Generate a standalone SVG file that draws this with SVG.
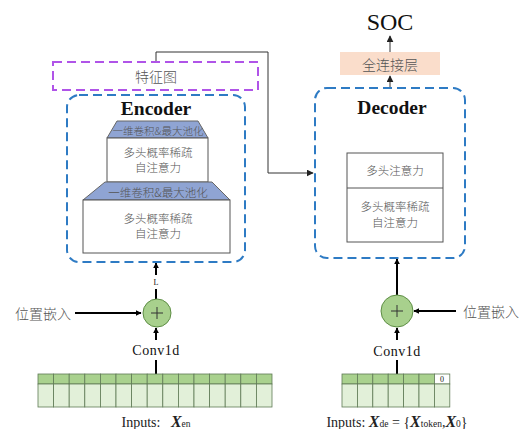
<svg xmlns="http://www.w3.org/2000/svg" width="525" height="429" viewBox="0 0 525 429">
<defs>
<marker id="ah" viewBox="0 0 10 10" refX="9" refY="5" markerWidth="6" markerHeight="6" orient="auto" markerUnits="userSpaceOnUse">
<path d="M0,0 L10,5 L0,10 z" fill="#000"/>
</marker>
<marker id="ahs" viewBox="0 0 10 10" refX="9" refY="5" markerWidth="7" markerHeight="7" orient="auto" markerUnits="userSpaceOnUse">
<path d="M0,0 L10,5 L0,10 z" fill="#222"/>
</marker>
</defs>
<style>
.cn{font-family:"Noto Sans CJK SC","Liberation Serif",serif;fill:#555;font-weight:300;text-anchor:middle;dominant-baseline:central}
.ser{font-family:"Liberation Serif",serif;fill:#111;text-anchor:middle;dominant-baseline:central}
.inp{font-family:"Liberation Serif",serif;fill:#222;text-anchor:middle;font-size:14px}
.blue{fill:none;stroke:#2E7BC4;stroke-width:2;stroke-dasharray:9,5}
.wbox{fill:#fff;stroke:#555;stroke-width:1}
.trap{fill:#8FA4D3;stroke:#666;stroke-width:1}
.line{stroke:#000;stroke-width:2;fill:none}
.thin{stroke:#333;stroke-width:1;fill:none}
.circ{fill:#A8D08D;stroke:#5E8E45;stroke-width:1}
.gt{fill:#A9D18E;stroke:#5f7a55;stroke-width:0.8}
.gb{fill:#E2F0D9;stroke:#5f7a55;stroke-width:0.8}
.X{font-weight:bold;font-style:italic;font-size:16px}
.sub{font-size:9.5px}
</style>
<rect width="525" height="429" fill="#fff"/>

<g id="connectors">
<path class="thin" d="M156,62 V52 H268 V173 H313" marker-end="url(#ahs)"/>
<line class="line" x1="156" y1="299" x2="156" y2="289"/>
<line class="line" x1="156" y1="275" x2="156" y2="263" marker-end="url(#ah)"/>
<line class="line" x1="75" y1="313" x2="141" y2="313" marker-end="url(#ah)"/>
<line class="line" x1="156" y1="340" x2="156" y2="328" marker-end="url(#ah)"/>
<line class="line" x1="156" y1="360" x2="156" y2="375"/>
<line class="line" x1="397" y1="295" x2="397" y2="259" marker-end="url(#ah)"/>
<line class="line" x1="456" y1="311" x2="414" y2="311" marker-end="url(#ah)"/>
<line class="line" x1="397" y1="340" x2="397" y2="328" marker-end="url(#ah)"/>
<line class="line" x1="397" y1="360" x2="397" y2="375"/>
<line class="thin" x1="390" y1="88" x2="390" y2="76" marker-end="url(#ahs)"/>
<line class="thin" x1="390" y1="52" x2="390" y2="36" marker-end="url(#ahs)"/>
</g>

<g id="featuremap">
<rect x="53" y="62" width="205" height="28" fill="none" stroke="#B054E8" stroke-width="2" stroke-dasharray="9,5"/>
<text class="cn" x="156" y="76" font-size="14">特征图</text>
</g>

<g id="encoder">
<rect class="blue" x="67" y="95" width="178" height="167" rx="12"/>
<text class="ser" x="156" y="108" font-size="19.5" font-weight="bold">Encoder</text>
<polygon class="trap" points="117,121 198,121 208,138 107,138"/>
<text class="cn" x="158" y="130" font-size="10.5">一维卷积&amp;最大池化</text>
<rect class="wbox" x="107" y="138" width="101" height="44"/>
<text class="cn" x="158" y="152" font-size="11.5">多头概率稀疏</text>
<text class="cn" x="158" y="167" font-size="11.5">自注意力</text>
<polygon class="trap" points="105,182 212,182 230,200 83,200"/>
<text class="cn" x="158" y="192" font-size="11.5">一维卷积&amp;最大池化</text>
<rect class="wbox" x="83" y="200" width="147" height="53"/>
<text class="cn" x="158" y="218" font-size="11.5">多头概率稀疏</text>
<text class="cn" x="158" y="233" font-size="11.5">自注意力</text>
</g>

<g id="label-L">
<text class="ser" x="156" y="282" font-size="8" fill="#333">L</text>
</g>

<g id="decoder">
<rect class="blue" x="315" y="88" width="150" height="170" rx="12"/>
<text class="ser" x="392" y="107" font-size="19.5" font-weight="bold">Decoder</text>
<rect class="wbox" x="347" y="153" width="96" height="89"/>
<line x1="347" y1="188" x2="443" y2="188" stroke="#555" stroke-width="1"/>
<text class="cn" x="395" y="170" font-size="11.5">多头注意力</text>
<text class="cn" x="395" y="206" font-size="11.5">多头概率稀疏</text>
<text class="cn" x="395" y="222" font-size="11.5">自注意力</text>
</g>

<g id="fc">
<rect x="340" y="52" width="100" height="23" fill="#FADDCB"/>
<text class="cn" x="390" y="63.5" font-size="14">全连接层</text>
</g>

<g id="soc">
<text class="ser" x="390" y="22" font-size="24" fill="#222">SOC</text>
</g>

<g id="enc-add">
<circle class="circ" cx="157" cy="313" r="14"/>
<path d="M151,313 H163 M157,307 V319" stroke="#333" stroke-width="1"/>
<text class="cn" x="43" y="313" font-size="14">位置嵌入</text>
<text class="ser" x="156" y="350" font-size="14" fill="#222" letter-spacing="0.5">Conv1d</text>
</g>

<g id="dec-add">
<circle class="circ" cx="397" cy="311" r="16"/>
<path d="M391,311 H403 M397,305 V317" stroke="#333" stroke-width="1"/>
<text class="cn" x="491" y="311" font-size="14">位置嵌入</text>
<text class="ser" x="397" y="351" font-size="14" fill="#222" letter-spacing="0.5">Conv1d</text>
</g>

<g id="enc-input">
<rect class="gt" x="38.0" y="374" width="15.6" height="10"/><rect class="gb" x="38.0" y="384" width="15.6" height="23"/>
<rect class="gt" x="53.6" y="374" width="15.6" height="10"/><rect class="gb" x="53.6" y="384" width="15.6" height="23"/>
<rect class="gt" x="69.2" y="374" width="15.6" height="10"/><rect class="gb" x="69.2" y="384" width="15.6" height="23"/>
<rect class="gt" x="84.8" y="374" width="15.6" height="10"/><rect class="gb" x="84.8" y="384" width="15.6" height="23"/>
<rect class="gt" x="100.4" y="374" width="15.6" height="10"/><rect class="gb" x="100.4" y="384" width="15.6" height="23"/>
<rect class="gt" x="116.0" y="374" width="15.6" height="10"/><rect class="gb" x="116.0" y="384" width="15.6" height="23"/>
<rect class="gt" x="131.6" y="374" width="15.6" height="10"/><rect class="gb" x="131.6" y="384" width="15.6" height="23"/>
<rect class="gt" x="147.2" y="374" width="15.6" height="10"/><rect class="gb" x="147.2" y="384" width="15.6" height="23"/>
<rect class="gt" x="162.8" y="374" width="15.6" height="10"/><rect class="gb" x="162.8" y="384" width="15.6" height="23"/>
<rect class="gt" x="178.4" y="374" width="15.6" height="10"/><rect class="gb" x="178.4" y="384" width="15.6" height="23"/>
<rect class="gt" x="194.0" y="374" width="15.6" height="10"/><rect class="gb" x="194.0" y="384" width="15.6" height="23"/>
<rect class="gt" x="209.6" y="374" width="15.6" height="10"/><rect class="gb" x="209.6" y="384" width="15.6" height="23"/>
<rect class="gt" x="225.2" y="374" width="15.6" height="10"/><rect class="gb" x="225.2" y="384" width="15.6" height="23"/>
<rect class="gt" x="240.8" y="374" width="15.6" height="10"/><rect class="gb" x="240.8" y="384" width="15.6" height="23"/>
<rect class="gt" x="256.4" y="374" width="15.6" height="10"/><rect class="gb" x="256.4" y="384" width="15.6" height="23"/>
<text class="inp" x="156" y="427" xml:space="preserve">Inputs:   <tspan class="X">X</tspan><tspan class="sub">en</tspan></text>
</g>

<g id="dec-input">
<rect class="gt" x="342.0" y="374" width="15.4" height="10"/><rect class="gb" x="342.0" y="384" width="15.4" height="23"/>
<rect class="gt" x="357.4" y="374" width="15.4" height="10"/><rect class="gb" x="357.4" y="384" width="15.4" height="23"/>
<rect class="gt" x="372.8" y="374" width="15.4" height="10"/><rect class="gb" x="372.8" y="384" width="15.4" height="23"/>
<rect class="gt" x="388.2" y="374" width="15.4" height="10"/><rect class="gb" x="388.2" y="384" width="15.4" height="23"/>
<rect class="gt" x="403.6" y="374" width="15.4" height="10"/><rect class="gb" x="403.6" y="384" width="15.4" height="23"/>
<rect class="gt" x="419.0" y="374" width="15.4" height="10"/><rect class="gb" x="419.0" y="384" width="15.4" height="23"/>
<rect x="434.4" y="374" width="15.4" height="10" fill="#fff" stroke="#5f7a55" stroke-width="0.8"/><rect class="gb" x="434.4" y="384" width="15.4" height="23"/>
<text class="ser" x="442" y="379.5" font-size="8" fill="#333">0</text>
<text class="inp" x="397" y="427">Inputs: <tspan class="X">X</tspan><tspan class="sub">de</tspan> = {<tspan class="X">X</tspan><tspan class="sub">token</tspan>,<tspan class="X">X</tspan><tspan class="sub">0</tspan>}</text>
</g>
</svg>
